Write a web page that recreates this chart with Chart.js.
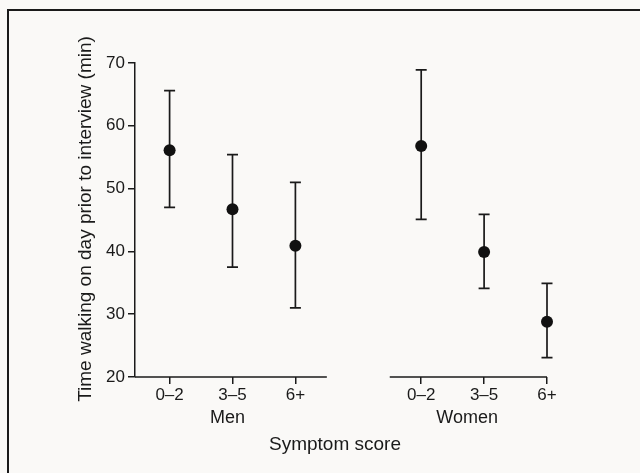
<!DOCTYPE html>
<html>
<head>
<meta charset="utf-8">
<script src="https://cdn.jsdelivr.net/npm/chart.js@4.4.1/dist/chart.umd.min.js"></script>
<style>
  html, body { margin: 0; padding: 0; background: #faf9f7; }
  #wrap { position: relative; width: 640px; height: 473px; }
</style>
</head>
<body>
<div id="wrap"><canvas id="chart" width="640" height="473"></canvas></div>
<script>
// Symptom score groups and their values (minutes)
const groups = ['Men', 'Women'];
const scoreLabels = ['0–2', '3–5', '6+'];

const menMean = [56.1, 46.7, 40.9];
const menUpper = [65.6, 55.4, 51.0];
const menLower = [47.0, 37.5, 31.0];

const womenMean = [56.8, 39.9, 28.8];
const womenUpper = [68.9, 45.9, 34.9];
const womenLower = [45.1, 34.1, 23.1];

const yTicks = [20, 30, 40, 50, 60, 70];

const ink = '#1a1a1a';
const font = "'Liberation Sans', Arial, sans-serif";

// men sit at x = 0,1,2 and women at x = 4,5,6 (gap of one slot between groups)
const xPos = (g, i) => g * 4 + i;

const points = [];
[[menMean, menUpper, menLower], [womenMean, womenUpper, womenLower]].forEach((s, g) => {
    s[0].forEach((v, i) => {
        points.push({ x: xPos(g, i), y: v, hi: s[1][i], lo: s[2][i] });
    });
});
const xTickValues = points.map(p => p.x);

// error bars, broken x axis, extra labels and the frame
const extras = {
    id: 'extras',
    beforeDraw(chart) {
        const ctx = chart.ctx;
        ctx.save();
        ctx.strokeStyle = ink;
        ctx.lineWidth = 2;
        ctx.beginPath();
        ctx.moveTo(8, 473);
        ctx.lineTo(8, 10);
        ctx.lineTo(640, 10);
        ctx.stroke();
        ctx.restore();
    },
    beforeDatasetsDraw(chart) {
        const ctx = chart.ctx;
        const xs = chart.scales.x, ys = chart.scales.y;
        ctx.save();
        ctx.strokeStyle = ink;
        ctx.lineWidth = 1.5;

        // x axis in two pieces
        const base = ys.getPixelForValue(20);
        [[-0.55, 2.5], [3.5, 6]].forEach(seg => {
            ctx.beginPath();
            ctx.moveTo(xs.getPixelForValue(seg[0]), base);
            ctx.lineTo(xs.getPixelForValue(seg[1]), base);
            ctx.stroke();
        });

        ctx.lineWidth = 1.7;
        points.forEach(p => {
            const px = xs.getPixelForValue(p.x);
            const top = ys.getPixelForValue(p.hi);
            const bot = ys.getPixelForValue(p.lo);
            ctx.beginPath();
            ctx.moveTo(px, top);
            ctx.lineTo(px, bot);
            ctx.moveTo(px - 5.5, top);
            ctx.lineTo(px + 5.5, top);
            ctx.moveTo(px - 5.5, bot);
            ctx.lineTo(px + 5.5, bot);
            ctx.stroke();
        });
        ctx.restore();
    },
    afterDraw(chart) {
        const ctx = chart.ctx;
        const xs = chart.scales.x;
        ctx.save();
        ctx.fillStyle = ink;
        ctx.textAlign = 'center';
        ctx.textBaseline = 'middle';
        ctx.font = '18px ' + font;
        ctx.fillText(groups[0], xs.getPixelForValue(0.92), 418);
        ctx.fillText(groups[1], xs.getPixelForValue(4.73), 418);
        ctx.font = '19px ' + font;
        ctx.fillText('Symptom score', 335, 445);

        ctx.translate(86, 219);
        ctx.rotate(-Math.PI / 2);
        ctx.fillText('Time walking on day prior to interview (min)', 0, 0);
        ctx.restore();
    }
};

new Chart(document.getElementById('chart'), {
    type: 'scatter',
    data: {
        datasets: [{
            data: points,
            pointRadius: 6,
            pointBackgroundColor: '#111',
            pointBorderWidth: 0,
            showLine: false,
            clip: false
        }]
    },
    options: {
        responsive: false,
        animation: false,
        layout: { padding: { top: 63, right: 93, left: 0, bottom: 0 } },
        plugins: {
            legend: { display: false },
            tooltip: { enabled: false }
        },
        scales: {
            x: {
                type: 'linear',
                min: -0.55,
                max: 6,
                afterFit: s => { s.height = 96; },
                afterBuildTicks: s => { s.ticks = xTickValues.map(v => ({ value: v })); },
                border: { display: false },
                grid: {
                    drawOnChartArea: false,
                    drawTicks: true,
                    tickLength: 7,
                    color: ink,
                    lineWidth: 1.5
                },
                ticks: {
                    color: ink,
                    padding: 1,
                    maxRotation: 0,
                    autoSkip: false,
                    font: { family: font, size: 17 },
                    callback: v => scoreLabels[v % 4]
                }
            },
            y: {
                min: 20,
                max: 70,
                afterFit: s => { s.width = 135; },
                afterBuildTicks: s => { s.ticks = yTicks.map(v => ({ value: v })); },
                border: { display: true, color: ink, width: 1.5 },
                grid: {
                    drawOnChartArea: false,
                    drawTicks: true,
                    tickLength: 7,
                    color: ink,
                    lineWidth: 1.5
                },
                ticks: {
                    color: ink,
                    padding: 3,
                    font: { family: font, size: 17 }
                }
            }
        }
    },
    plugins: [extras]
});
</script>
</body>
</html>
